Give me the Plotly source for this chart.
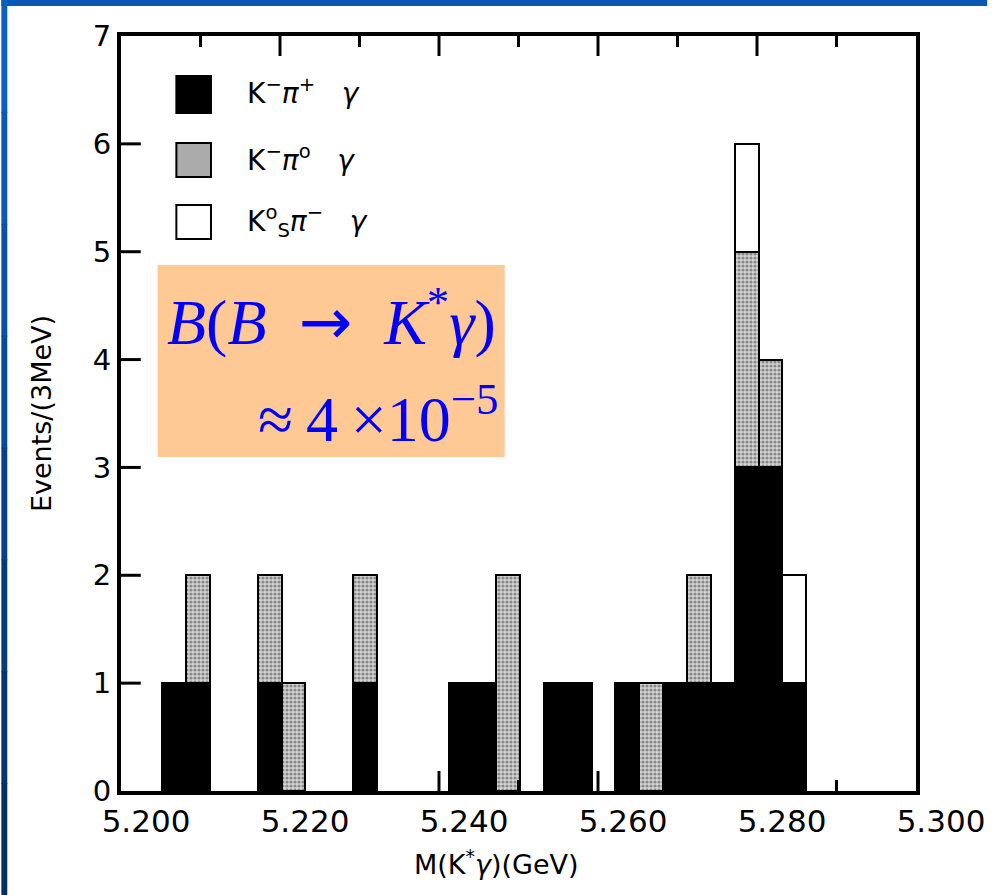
import plotly.graph_objects as go

# 3 MeV bins of the beam-constrained mass M(K*gamma), bin centres in GeV
bin_centers = [5.2067, 5.2097, 5.2127, 5.2157, 5.2187, 5.2217, 5.2247, 5.2277,
               5.2307, 5.2337, 5.2367, 5.2397, 5.2427, 5.2457, 5.2487, 5.2517,
               5.2547, 5.2577, 5.2607, 5.2637, 5.2667, 5.2697, 5.2727, 5.2757,
               5.2787, 5.2817, 5.2847]
bin_width = 0.003

# events per bin for each decay channel
k_pi_plus = [1, 1, 0, 0, 1, 0, 0, 0, 1, 0, 0, 0, 1, 1, 0, 0,
             1, 1, 0, 1, 0, 1, 1, 1, 3, 3, 1]
k_pi_zero = [0, 1, 0, 0, 1, 1, 0, 0, 1, 0, 0, 0, 0, 0, 2, 0,
             0, 0, 0, 0, 1, 0, 1, 0, 2, 1, 0]
ks_pi_minus = [0, 0, 0, 0, 0, 0, 0, 0, 0, 0, 0, 0, 0, 0, 0, 0,
               0, 0, 0, 0, 0, 0, 0, 0, 1, 0, 1]

channel_labels = [
    "K<sup>−</sup><i>π</i><sup>+</sup>\u00a0\u00a0\u00a0<i>γ</i>",
    "K<sup>−</sup><i>π</i><sup>o</sup>\u00a0\u00a0\u00a0<i>γ</i>",
    "K<sup>o</sup><sub>S</sub><i>π</i><sup>−</sup>\u00a0\u00a0\u00a0<i>γ</i>",
]

# axis tick positions
x_major = [5.20, 5.22, 5.24, 5.26, 5.28, 5.30]
x_minor = [5.21, 5.23, 5.25, 5.27, 5.29]
y_major = [0, 1, 2, 3, 4, 5, 6, 7]

X_RANGE = [5.200, 5.300]
Y_RANGE = [0, 7]

# plot area in page pixels
L, R, T, B = 121, 925, 36, 791
W, H = R - L, B - T
FIG_W, FIG_H = 997, 895
MAJOR_LEN, MINOR_LEN, TICK_W = 20, 11, 3

# one pixel expressed in data units
X_PIX = (X_RANGE[1] - X_RANGE[0]) / W
Y_PIX = (Y_RANGE[1] - Y_RANGE[0]) / H


def px(x):
    return (x - L) / W


def py(y):
    return (B - y) / H


def nz(vals):
    return [v if v else None for v in vals]


gray_marker = dict(
    color="#d0d0d0",
    pattern=dict(shape=".", fgcolor="#3c3c3c", bgcolor="#d4d4d4",
                 size=4, solidity=0.5),
    line=dict(color="black", width=2),
)

fig = go.Figure()
fig.add_bar(x=bin_centers, y=nz(k_pi_plus), width=bin_width,
            marker=dict(color="black", line=dict(color="black", width=2)),
            name="K-pi+gamma")
fig.add_bar(x=bin_centers, y=nz(k_pi_zero), width=bin_width,
            marker=gray_marker, name="K-pi0gamma")
fig.add_bar(x=bin_centers, y=nz(ks_pi_minus), width=bin_width,
            marker=dict(color="white", line=dict(color="black", width=2)),
            name="KSpi-gamma")

shapes = []

# slide frame: blue band on top and a shaded band down the left side
shapes.append(dict(type="rect", xref="paper", yref="paper",
                   x0=px(0), x1=px(FIG_W), y0=py(6), y1=py(0),
                   fillcolor="#0a5ab5", line=dict(width=0), layer="below"))
band_cols = ["#0b5fc2", "#0a58b4", "#0851a4", "#074a95", "#054386",
             "#043c78", "#03366b", "#023060"]
seg = FIG_H / len(band_cols)
for i, c in enumerate(band_cols):
    shapes.append(dict(type="rect", xref="paper", yref="paper",
                       x0=px(0), x1=px(6), y0=py((i + 1) * seg + 1), y1=py(i * seg),
                       fillcolor=c, line=dict(width=0), layer="below"))


# inward tick marks, drawn as thin filled bars
def x_tick(v, length):
    hw = TICK_W / 2 * X_PIX
    for y0, y1 in ((0, length / H), (1, 1 - length / H)):
        shapes.append(dict(type="rect", xref="x", yref="paper",
                           x0=v - hw, x1=v + hw, y0=y0, y1=y1,
                           fillcolor="black", line=dict(width=0)))


for v in x_major[1:-1]:
    x_tick(v, MAJOR_LEN)
for v in x_minor:
    x_tick(v, MINOR_LEN)
for v in y_major[1:-1]:
    hh = TICK_W / 2 * Y_PIX
    shapes.append(dict(type="rect", xref="paper", yref="y",
                       x0=0, x1=MAJOR_LEN / W, y0=v - hh, y1=v + hh,
                       fillcolor="black", line=dict(width=0)))

# legend swatches
swatches = [
    ((177, 76, 212, 113), "black"),
    ((177, 143, 212, 177), "#ababab"),
    ((177, 205, 212, 239), "white"),
]
for (x0, y0, x1, y1), fill in swatches:
    shapes.append(dict(type="rect", xref="paper", yref="paper",
                       x0=px(x0), x1=px(x1), y0=py(y1), y1=py(y0),
                       fillcolor=fill, line=dict(color="black", width=2)))

# highlighted result box
shapes.append(dict(type="rect", xref="paper", yref="paper",
                   x0=px(158), x1=px(509), y0=py(457), y1=py(265),
                   fillcolor="#ffc996", line=dict(width=0)))

annotations = []
for label, yc in zip(channel_labels, [92, 158, 222]):
    annotations.append(dict(xref="paper", yref="paper", x=px(246), y=py(yc),
                            xanchor="left", yanchor="middle", showarrow=False,
                            text=label,
                            font=dict(family="DejaVu Sans", size=28, color="black")))

annotations.append(dict(xref="paper", yref="paper", x=px(166), y=py(318),
                        xanchor="left", yanchor="middle", showarrow=False,
                        text=("<i>B</i>(<i>B</i>\u00a0 "
                              "<span style=\"font-family:'DejaVu Sans'\">→</span>"
                              " \u00a0<i>K</i><sup>*</sup><i>γ</i>)"),
                        font=dict(family="Liberation Serif", size=64, color="#0000ff")))
annotations.append(dict(xref="paper", yref="paper", x=px(505), y=py(414),
                        xanchor="right", yanchor="middle", showarrow=False,
                        text="≈\u20094\u2009×10<sup>−5</sup>",
                        font=dict(family="Liberation Serif", size=64, color="#0000ff")))

annotations.append(dict(xref="paper", yref="paper", x=px(501), y=py(862),
                        xanchor="center", yanchor="middle", showarrow=False,
                        text="M(K<sup>*</sup><i>γ</i>)(GeV)",
                        font=dict(family="DejaVu Sans", size=27, color="black")))

fig.update_layout(
    width=FIG_W, height=FIG_H,
    margin=dict(l=L, r=FIG_W - R, t=T, b=FIG_H - B, pad=0),
    barmode="stack",
    showlegend=False,
    paper_bgcolor="white",
    plot_bgcolor="white",
    shapes=shapes,
    annotations=annotations,
    font=dict(family="DejaVu Sans", color="black"),
)

fig.update_xaxes(
    range=X_RANGE,
    tickmode="array", tickvals=x_major,
    ticktext=[f"{v:.3f}" for v in x_major],
    ticks="",
    showline=True, linewidth=4, linecolor="black", mirror=True,
    showgrid=False, zeroline=False,
    tickfont=dict(family="DejaVu Sans", size=31, color="black"),
    ticklabelshift=25,
)

fig.update_yaxes(
    range=Y_RANGE,
    tickmode="array", tickvals=y_major,
    ticks="",
    showline=True, linewidth=4, linecolor="black", mirror=True,
    showgrid=False, zeroline=False,
    tickfont=dict(family="DejaVu Sans", size=29, color="black"),
    title=dict(text="Events/(3MeV)", standoff=34,
               font=dict(family="DejaVu Sans", size=27, color="black")),
)

fig.write_html("out.html")
